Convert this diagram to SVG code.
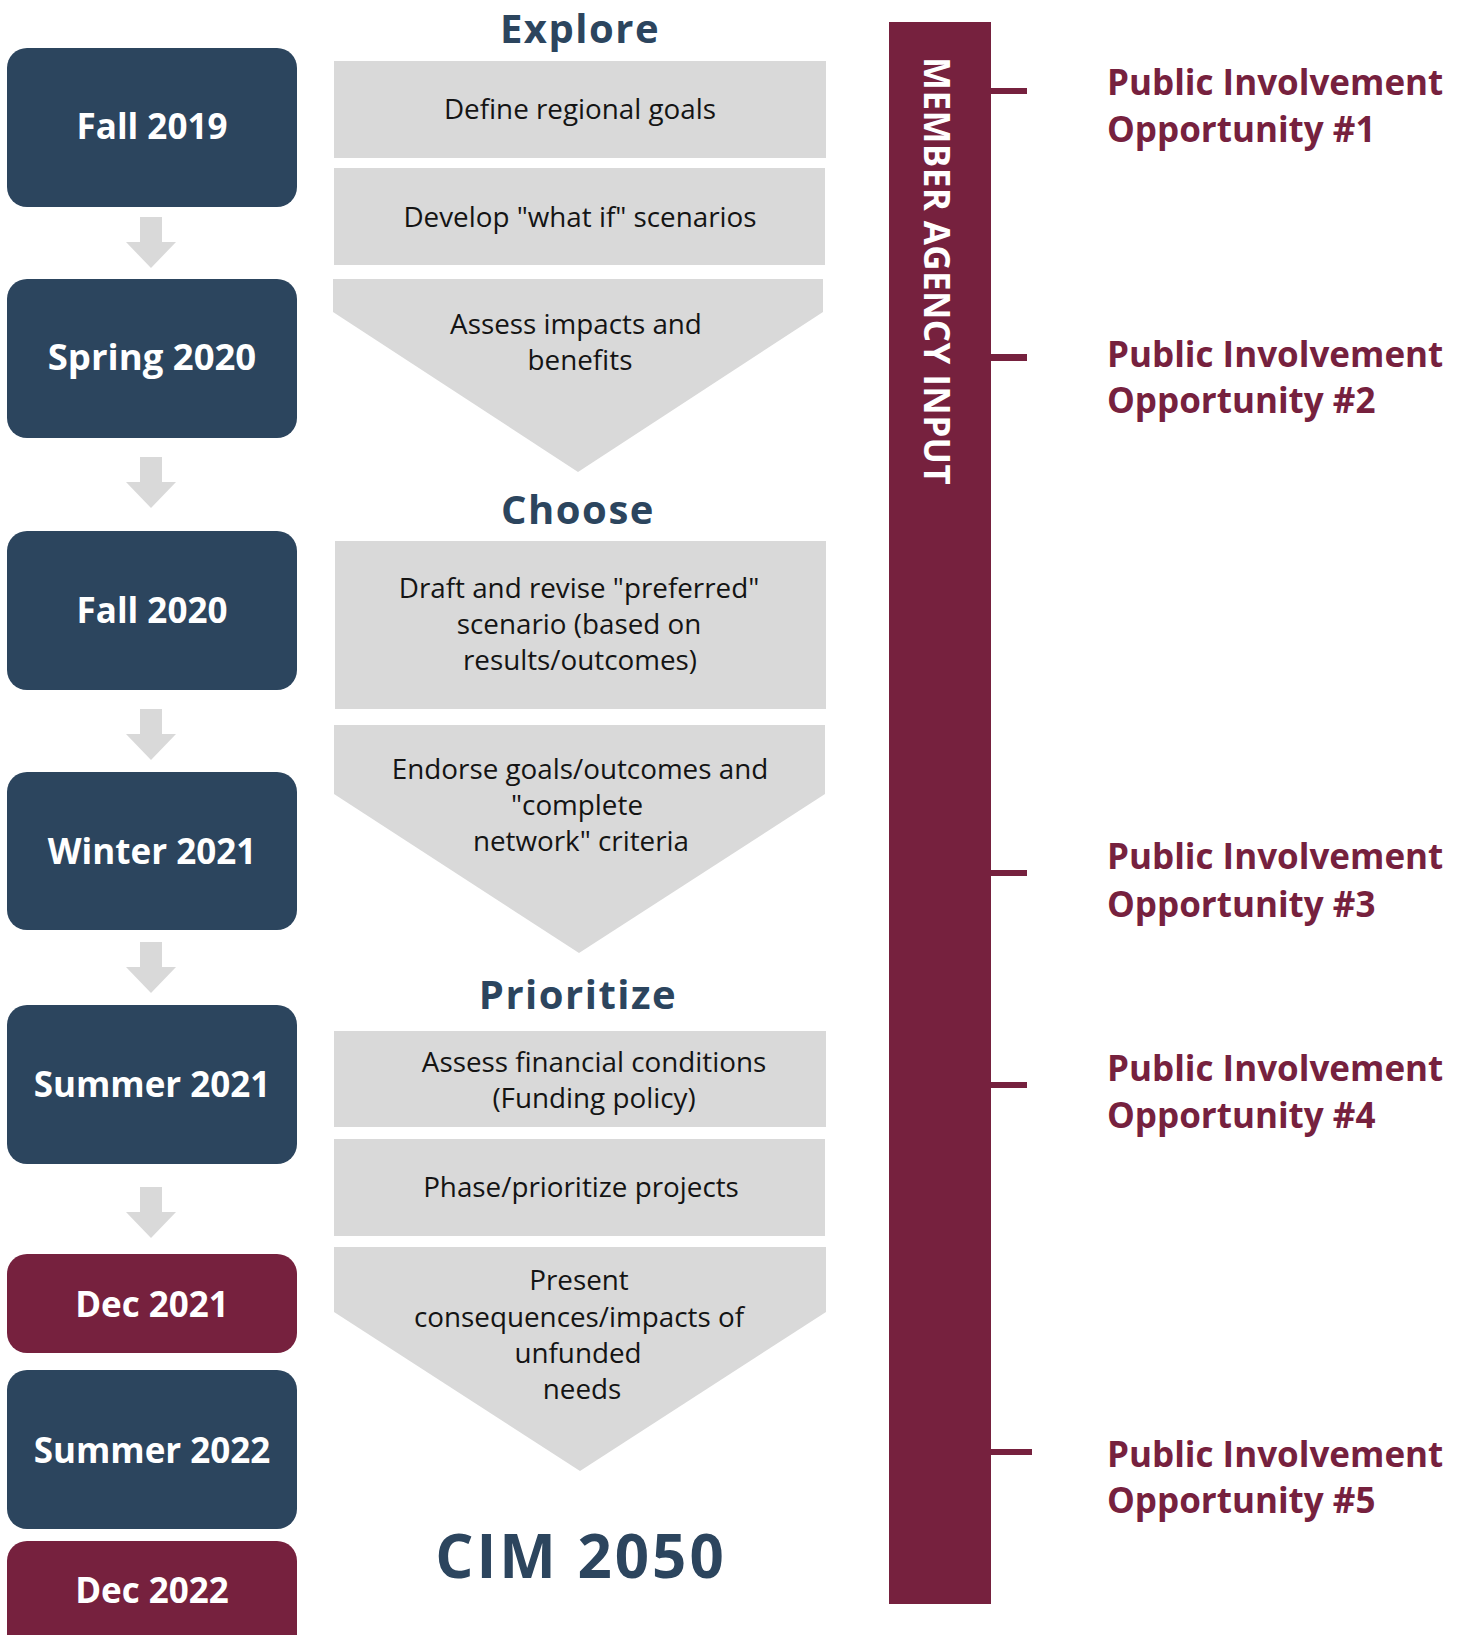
<svg xmlns="http://www.w3.org/2000/svg" width="1463" height="1635" viewBox="0 0 1463 1635">
<style>
.navy{fill:#2c455e}
.maroon{fill:#76213e}
.gray{fill:#d9d9d9}
.date{font-family:"Open Sans","Liberation Sans",sans-serif;font-weight:700;font-size:35px;fill:#ffffff;text-anchor:middle}
.head{font-family:"Open Sans","Liberation Sans",sans-serif;font-weight:700;font-size:40px;fill:#2c455e;text-anchor:middle;letter-spacing:1.5px}
.body{font-family:"Open Sans","Liberation Sans",sans-serif;font-weight:400;font-size:27.8px;fill:#141414;text-anchor:middle}
.opp{font-family:"Open Sans","Liberation Sans",sans-serif;font-weight:700;font-size:35px;fill:#76213e}
.vert{font-family:"Open Sans","Liberation Sans",sans-serif;font-weight:700;font-size:35px;fill:#ffffff;letter-spacing:0.4px}
.cim{font-family:"Open Sans","Liberation Sans",sans-serif;font-weight:700;font-size:60px;fill:#2c455e;text-anchor:middle;letter-spacing:3px}
</style>
<defs>
<path id="darrow" d="M-11,0 H11 V25 H25 L0,51 L-25,25 H-11 Z"/>
</defs>
<rect width="1463" height="1635" fill="#ffffff"/>

<g id="connectors">
<use href="#darrow" class="gray" x="151" y="217"/>
<use href="#darrow" class="gray" x="151" y="457"/>
<use href="#darrow" class="gray" x="151" y="709"/>
<use href="#darrow" class="gray" x="151" y="942"/>
<use href="#darrow" class="gray" x="151" y="1187"/>
<rect class="maroon" x="990" y="88" width="37" height="6"/>
<rect class="maroon" x="990" y="354" width="37" height="7"/>
<rect class="maroon" x="990" y="870" width="37" height="6"/>
<rect class="maroon" x="990" y="1082" width="37" height="6"/>
<rect class="maroon" x="990" y="1449" width="42" height="6"/>
</g>

<g id="date-fall-2019"><rect class="navy" x="7" y="48" width="290" height="159" rx="20"/><text class="date" x="152" y="139">Fall 2019</text></g>
<g id="date-spring-2020"><rect class="navy" x="7" y="279" width="290" height="159" rx="20"/><text class="date" x="152" y="370" style="font-size:36.5px">Spring 2020</text></g>
<g id="date-fall-2020"><rect class="navy" x="7" y="531" width="290" height="159" rx="20"/><text class="date" x="152" y="623">Fall 2020</text></g>
<g id="date-winter-2021"><rect class="navy" x="7" y="772" width="290" height="158" rx="20"/><text class="date" x="152" y="864">Winter 2021</text></g>
<g id="date-summer-2021"><rect class="navy" x="7" y="1005" width="290" height="159" rx="20"/><text class="date" x="152" y="1097">Summer 2021</text></g>
<g id="date-dec-2021"><rect class="maroon" x="7" y="1254" width="290" height="99" rx="20"/><text class="date" x="152" y="1317">Dec 2021</text></g>
<g id="date-summer-2022"><rect class="navy" x="7" y="1370" width="290" height="159" rx="20"/><text class="date" x="152" y="1463">Summer 2022</text></g>
<g id="date-dec-2022"><rect class="maroon" x="7" y="1541" width="290" height="130" rx="20"/><text class="date" x="152" y="1603">Dec 2022</text></g>

<g id="heading-explore"><text class="head" x="580" y="43">Explore</text></g>
<g id="step-define"><rect class="gray" x="334" y="61" width="492" height="97"/><text class="body" x="580" y="119">Define regional goals</text></g>
<g id="step-develop"><rect class="gray" x="334" y="168" width="491" height="97"/><text class="body" x="580" y="227">Develop "what if" scenarios</text></g>
<g id="step-assess"><path class="gray" d="M333,279 H823 V312 L578,472 L333,312 Z"/><text class="body" x="576" y="334">Assess impacts and</text><text class="body" x="580" y="370">benefits</text></g>

<g id="heading-choose"><text class="head" x="578" y="524">Choose</text></g>
<g id="step-draft"><rect class="gray" x="335" y="541" width="491" height="168"/><text class="body" x="579" y="598">Draft and revise "preferred"</text><text class="body" x="579" y="634">scenario (based on</text><text class="body" x="580" y="670">results/outcomes)</text></g>
<g id="step-endorse"><path class="gray" d="M334,725 H825 V794 L579,953 L334,794 Z"/><text class="body" x="580" y="779">Endorse goals/outcomes and</text><text class="body" x="577" y="815">"complete</text><text class="body" x="581" y="851">network" criteria</text></g>

<g id="heading-prioritize"><text class="head" x="578" y="1009">Prioritize</text></g>
<g id="step-financial"><rect class="gray" x="334" y="1031" width="492" height="96"/><text class="body" x="594" y="1072">Assess financial conditions</text><text class="body" x="594" y="1108">(Funding policy)</text></g>
<g id="step-phase"><rect class="gray" x="334" y="1139" width="491" height="97"/><text class="body" x="581" y="1197">Phase/prioritize projects</text></g>
<g id="step-present"><path class="gray" d="M334,1247 H826 V1312 L580,1471 L334,1312 Z"/><text class="body" x="579" y="1290">Present</text><text class="body" x="579" y="1327">consequences/impacts of</text><text class="body" x="578" y="1363">unfunded</text><text class="body" x="582" y="1399">needs</text></g>

<g id="result-cim-2050"><text class="cim" x="581" y="1578">CIM 2050</text></g>

<g id="member-agency-input"><rect class="maroon" x="889" y="22" width="102" height="1582"/><text class="vert" transform="translate(924,57) rotate(90)">MEMBER AGENCY INPUT</text></g>

<g id="opportunity-1"><text class="opp" x="1107" y="95">Public Involvement</text><text class="opp" x="1107" y="142">Opportunity #1</text></g>
<g id="opportunity-2"><text class="opp" x="1107" y="367">Public Involvement</text><text class="opp" x="1107" y="413">Opportunity #2</text></g>
<g id="opportunity-3"><text class="opp" x="1107" y="869">Public Involvement</text><text class="opp" x="1107" y="917">Opportunity #3</text></g>
<g id="opportunity-4"><text class="opp" x="1107" y="1081">Public Involvement</text><text class="opp" x="1107" y="1128">Opportunity #4</text></g>
<g id="opportunity-5"><text class="opp" x="1107" y="1467">Public Involvement</text><text class="opp" x="1107" y="1513">Opportunity #5</text></g>
</svg>
